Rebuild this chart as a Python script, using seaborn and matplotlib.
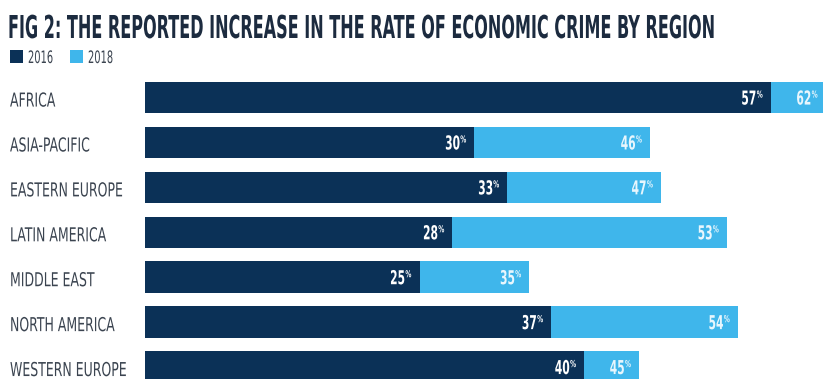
import matplotlib
matplotlib.use("Agg")
import matplotlib.pyplot as plt
import pandas as pd
import seaborn as sns
from matplotlib import font_manager as fm
from matplotlib.font_manager import FontProperties
from matplotlib.patheffects import AbstractPathEffect
from matplotlib.transforms import Affine2D, blended_transform_factory
from matplotlib.textpath import TextPath
from matplotlib.patches import Rectangle

# ---- data -------------------------------------------------------------
regions = ["AFRICA", "ASIA-PACIFIC", "EASTERN EUROPE", "LATIN AMERICA",
           "MIDDLE EAST", "NORTH AMERICA", "WESTERN EUROPE"]
rate_2016 = [57, 30, 33, 28, 25, 37, 40]
rate_2018 = [62, 46, 47, 53, 35, 54, 45]
years = ["2016", "2018"]
title = "FIG 2: THE REPORTED INCREASE IN THE RATE OF ECONOMIC CRIME BY REGION"

# ---- style ------------------------------------------------------------
DARK = "#0b3157"
LIGHT = "#3fb6eb"
TITLE_C = "#1c2b3f"
LABEL_C = "#3b4450"
W, H, DPI = 823, 379, 100
PT = 72.0 / DPI  # points per pixel

sns.set_style("white")


def condensed_font(weight):
    options = [("Liberation Sans Narrow", "normal"), ("DejaVu Sans", "condensed"),
               ("Roboto Condensed", "normal"), ("Liberation Sans", "normal")]
    for fam, stretch in options:
        try:
            path = fm.findfont(FontProperties(family=fam, stretch=stretch, weight=weight),
                               fallback_to_default=False)
        except Exception:
            continue
        if fam == "DejaVu Sans" and "Condensed" not in path:
            continue
        return FontProperties(fname=path)
    return FontProperties(family="DejaVu Sans", weight=weight)


class VStretch(AbstractPathEffect):
    """Stretch glyphs vertically about their baseline (tall condensed look)."""

    def __init__(self, sy):
        super().__init__()
        self.sy = sy

    def draw_path(self, renderer, gc, tpath, affine, rgbFace=None):
        renderer.draw_path(gc, tpath, Affine2D().scale(1.0, self.sy) + affine, rgbFace)


fp_bold = condensed_font("bold")
fp_reg = condensed_font("normal")

fig = plt.figure(figsize=(W / DPI, H / DPI), dpi=DPI)
fig.patch.set_facecolor("white")
renderer = fig.canvas.get_renderer()


def text_width(s, fp, size):
    p = fp.copy()
    p.set_size(size)
    return renderer.get_text_width_height_descent(s, p, ismath=False)[0]


def sized(fp, s, width_px, cap_px):
    """Font size giving the wanted width, plus the stretch giving the wanted cap height."""
    size = 10.0 * width_px / text_width(s, fp, 10.0)
    cap = TextPath((0, 0), "H", size=1, prop=fp).get_extents().height
    p = fp.copy()
    p.set_size(size)
    return p, cap_px / (cap * size / PT)


# ---- bars -------------------------------------------------------------
px_per_pct = 10.98
ax = fig.add_axes([145 / W, -10.5 / H, 678 / W, 314.4 / H])
df = pd.DataFrame({"region": regions, years[0]: rate_2016, years[1]: rate_2018})
sns.barplot(data=df, x=years[1], y="region", color=LIGHT, saturation=1, width=0.70,
            errorbar=None, linewidth=0, ax=ax, orient="h")
sns.barplot(data=df, x=years[0], y="region", color=DARK, saturation=1, width=0.70,
            errorbar=None, linewidth=0, ax=ax, orient="h")
ax.set_xlim(0, 678 / px_per_pct)
ax.set_ylim(len(regions) - 0.5, -0.5)
ax.set_axis_off()

# ---- title & legend ---------------------------------------------------
tp, tsy = sized(fp_bold, title, 704, 23)
fig.text(8 / W, 1 - 38 / H, title, fontproperties=tp, color=TITLE_C,
         ha="left", va="baseline", path_effects=[VStretch(tsy)])

lp, lsy = sized(fp_reg, "2016", 25, 12.5)
for x0, col, yr in [(10, DARK, years[0]), (70, LIGHT, years[1])]:
    fig.patches.append(Rectangle((x0 / W, 1 - 63 / H), 13 / W, 13 / H,
                                 transform=fig.transFigure, color=col, lw=0))
    fig.text((x0 + 18) / W, 1 - 63 / H, yr, fontproperties=lp, color=LABEL_C,
             ha="left", va="baseline", path_effects=[VStretch(lsy)])

# ---- category labels --------------------------------------------------
cp, csy = sized(fp_reg, "WESTERN EUROPE", 117, 14)
blend = blended_transform_factory(fig.transFigure, ax.transData)
for i, name in enumerate(regions):
    ax.annotate(name, xy=(10 / W, i), xycoords=blend, xytext=(0, -9 * PT),
                textcoords="offset points", ha="left", va="baseline",
                fontproperties=cp, color=LABEL_C, path_effects=[VStretch(csy)],
                annotation_clip=False)

# ---- value labels -----------------------------------------------------
vp, vsy = sized(fp_bold, "57", 15, 14)
pp, psy = sized(fp_bold, "%", 6, 7)
pct_w = text_width("%", pp, pp.get_size())
for vals, tcol in [(rate_2018, "#e8f6fd"), (rate_2016, "white")]:
    for i, v in enumerate(vals):
        ax.annotate("%", xy=(v, i), xycoords="data", xytext=(-8 * PT, 0),
                    textcoords="offset points", ha="right", va="baseline",
                    fontproperties=pp, color=tcol, path_effects=[VStretch(psy)],
                    annotation_clip=False)
        ax.annotate(f"{v}", xy=(v, i), xycoords="data",
                    xytext=(-(8 + pct_w + 0.5) * PT, -7 * PT),
                    textcoords="offset points", ha="right", va="baseline",
                    fontproperties=vp, color=tcol, path_effects=[VStretch(vsy)],
                    annotation_clip=False)

fig.savefig("out.png", dpi=DPI, facecolor="white")
